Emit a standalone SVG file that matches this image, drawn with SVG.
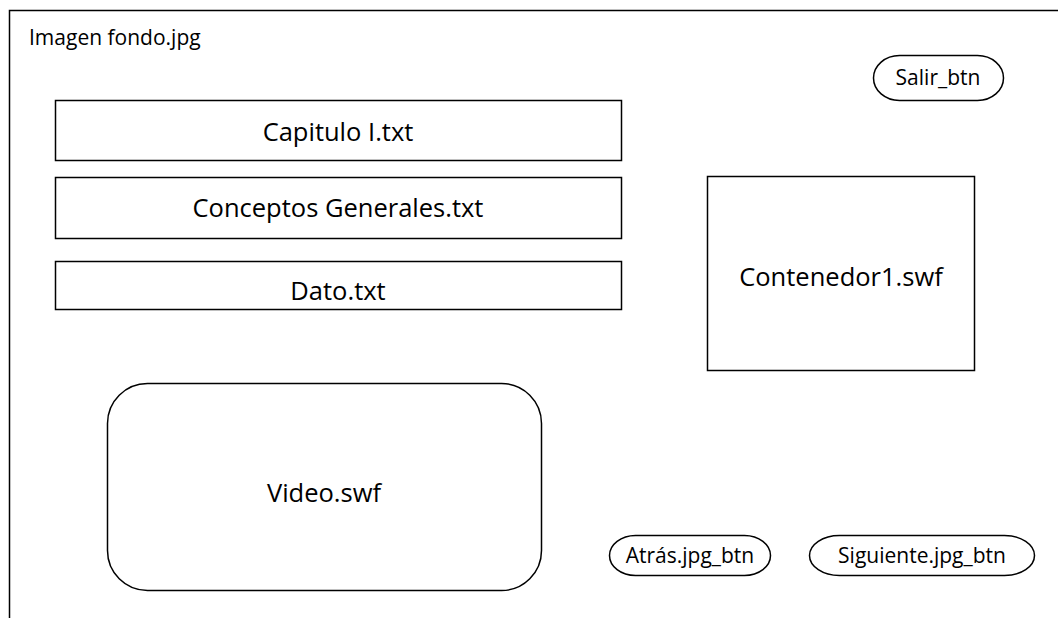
<svg xmlns="http://www.w3.org/2000/svg" width="1058" height="618" viewBox="0 0 1058 618">
<style>
.s{fill:#fff;stroke:#000;stroke-width:1.5}
.t{font-family:"Open Sans","Liberation Sans",sans-serif;fill:#000;text-anchor:middle}
.big{font-size:25.5px}
.sm{font-size:21px}
</style>
<rect width="1058" height="618" fill="#fff"/>
<g id="frame">
<path d="M9.5 618 V10.5 H1058" fill="none" stroke="#000" stroke-width="1.5"/>
<text x="29" y="45" class="t sm" style="text-anchor:start">Imagen fondo.jpg</text>
</g>
<g id="capitulo">
<rect class="s" x="55.5" y="100.5" width="566" height="60"/>
<text class="t big" x="338" y="141">Capitulo I.txt</text>
</g>
<g id="conceptos">
<rect class="s" x="55.5" y="177.5" width="566" height="61"/>
<text class="t big" x="338" y="217">Conceptos Generales.txt</text>
</g>
<g id="dato">
<rect class="s" x="55.5" y="261.5" width="566" height="48"/>
<text class="t big" x="338" y="300">Dato.txt</text>
</g>
<g id="contenedor">
<rect class="s" x="707.5" y="176.5" width="267" height="194"/>
<text class="t big" x="841" y="286">Contenedor1.swf</text>
</g>
<g id="video">
<rect class="s" x="107.5" y="383.5" width="434" height="207" rx="40" ry="40"/>
<text class="t big" x="324" y="502">Video.swf</text>
</g>
<g id="salir">
<rect class="s" x="873.5" y="55.5" width="130" height="45" rx="26" ry="22.5"/>
<text class="t sm" x="938" y="85">Salir_btn</text>
</g>
<g id="atras">
<rect class="s" x="609.5" y="535.5" width="161" height="40" rx="26" ry="20"/>
<text class="t sm" x="690" y="563">Atrás.jpg_btn</text>
</g>
<g id="siguiente">
<rect class="s" x="809.5" y="535.5" width="225" height="40" rx="30" ry="20"/>
<text class="t sm" x="922" y="563">Siguiente.jpg_btn</text>
</g>
<g id="connectors"/>
</svg>
